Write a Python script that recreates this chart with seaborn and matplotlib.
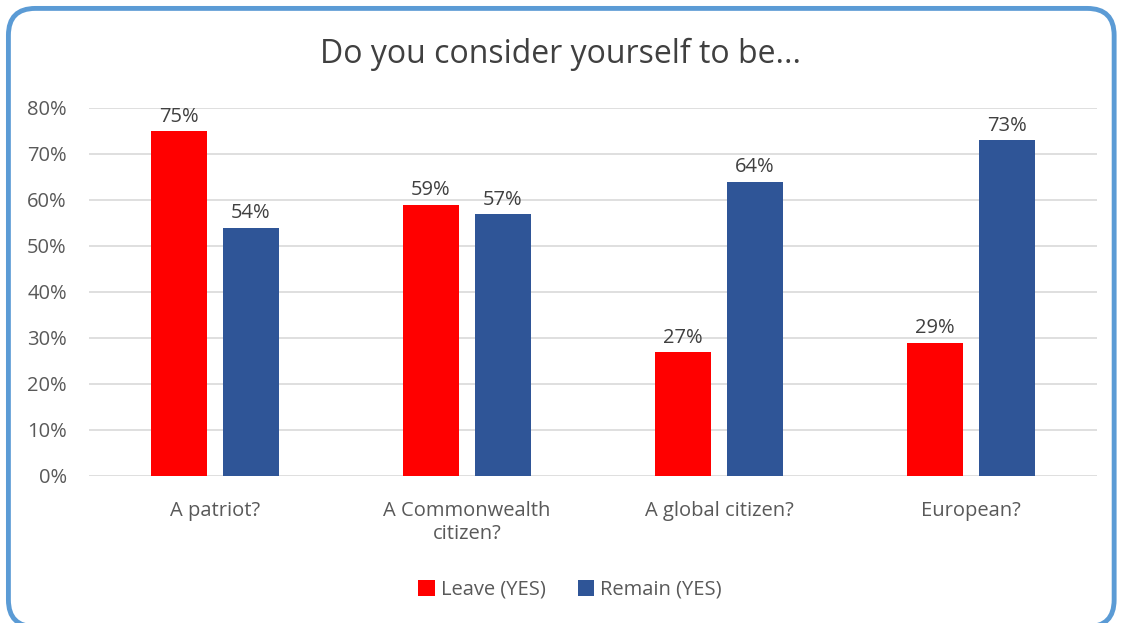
import matplotlib
matplotlib.use("Agg")
import matplotlib.pyplot as plt
import seaborn as sns
import pandas as pd
from matplotlib.patches import FancyBboxPatch, Patch
from matplotlib.ticker import PercentFormatter

categories = ["A patriot?", "A Commonwealth\ncitizen?", "A global citizen?", "European?"]
series = ["Leave (YES)", "Remain (YES)"]
leave = [0.75, 0.59, 0.27, 0.29]
remain = [0.54, 0.57, 0.64, 0.73]
colors = ["#FF0000", "#2F5597"]

df = pd.DataFrame({
    "category": categories * 2,
    "series": [series[0]] * 4 + [series[1]] * 4,
    "value": leave + remain,
})

sns.set_theme(style="white")
plt.rcParams["font.family"] = ["Open Sans", "DejaVu Sans"]
text_color = "#595959"

fig = plt.figure(figsize=(11.22, 6.23), dpi=100)
ax = fig.add_axes([0.0793, 0.236, 0.8984, 0.5907])

sns.barplot(data=df, x="category", y="value", hue="series", order=categories,
            hue_order=series, palette=colors, width=0.571, gap=0.21,
            saturation=1, ax=ax, legend=False, errorbar=None,
            edgecolor="none", linewidth=0)

ax.set_ylim(0, 0.8)
ax.set_xlim(-0.5, 3.5)
ax.set_yticks([i / 10 for i in range(9)])
ax.yaxis.set_major_formatter(PercentFormatter(1.0, decimals=0))
ax.grid(axis="y", color="#D9D9D9", linewidth=1.2)
ax.set_axisbelow(True)
for s in ax.spines.values():
    s.set_visible(False)
ax.tick_params(axis="both", length=0, labelsize=14.5, labelcolor=text_color)
ax.tick_params(axis="x", pad=18)
ax.tick_params(axis="y", pad=16)
ax.set_xlabel("")
ax.set_ylabel("")

for cont in ax.containers:
    ax.bar_label(cont, labels=[f"{v*100:.0f}%" for v in cont.datavalues],
                 padding=3, fontsize=14.5, color="#404040")

fig.text(0.5, 0.913, "Do you consider yourself to be...", ha="center", va="center",
         fontsize=23, color="#404040")

handles = [Patch(facecolor=c, edgecolor="none") for c in colors]
fig.legend(handles, series, loc="center", bbox_to_anchor=(0.508, 0.053), ncol=2,
           frameon=False, fontsize=14.5, labelcolor=text_color, handlelength=0.8,
           handleheight=0.8, handletextpad=0.3, columnspacing=1.6)

border = FancyBboxPatch((0.0075, -0.006), 0.9855, 0.9925,
                        boxstyle="round,pad=0,rounding_size=0.024",
                        transform=fig.transFigure, facecolor="none",
                        edgecolor="#5B9BD5", linewidth=3.5, mutation_aspect=1122/623)
fig.patches.append(border)

fig.savefig("out.png", dpi=100)
